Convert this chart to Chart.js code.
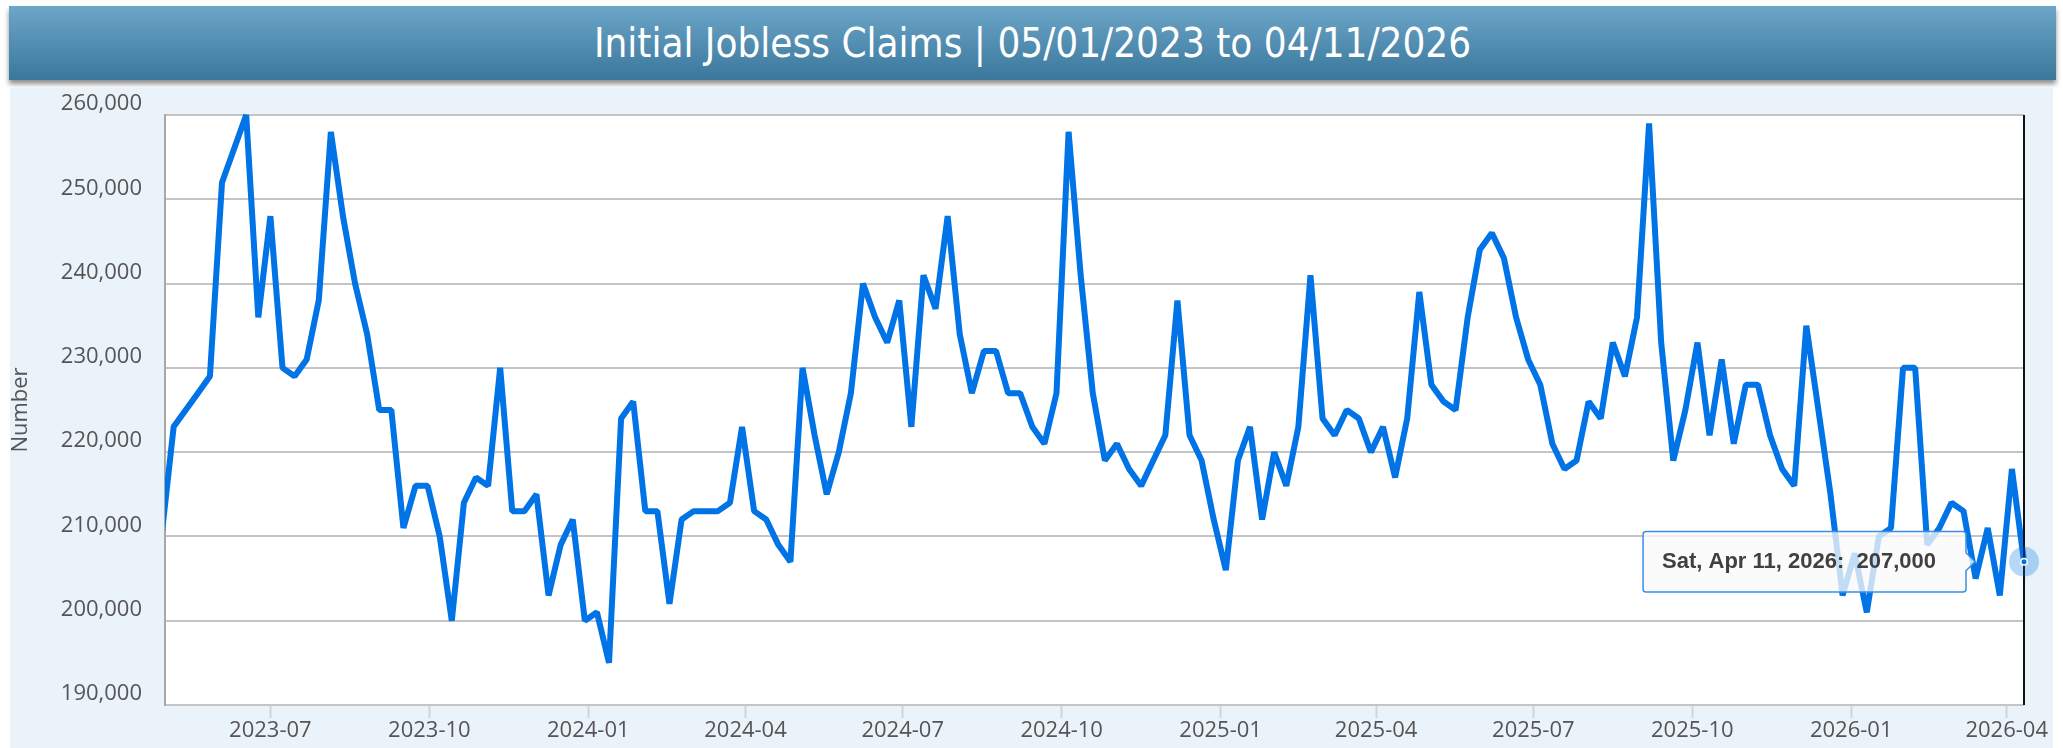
<!DOCTYPE html>
<html>
<head>
<meta charset="utf-8">
<title>Initial Jobless Claims</title>
<script src="https://cdn.jsdelivr.net/npm/chart.js@4.4.1/dist/chart.umd.min.js"></script>
<style>
    html, body { margin: 0; padding: 0; width: 2063px; height: 748px; overflow: hidden; background: #fff; }
    #title {
        position: absolute; left: 9px; top: 6px; width: 2047px; height: 74px;
        background: linear-gradient(#6ca6c9, #3a779b);
        box-shadow: 0 4px 5px rgba(0, 0, 0, 0.45);
        color: #fff; text-align: center; line-height: 74px;
        font-family: 'Liberation Sans Narrow', 'DejaVu Sans Condensed', sans-serif; font-size: 40px;
    }
    #panel { position: absolute; left: 10px; top: 88px; width: 2043px; height: 660px; background: #eaf2fa; }
    #chart { display: block; }
</style>
</head>
<body>
<div id="title">Initial Jobless Claims | 05/01/2023 to 04/11/2026</div>
<div id="panel"><canvas id="chart" width="2043" height="660"></canvas></div>
<script>
// weekly claims, first week ending Sat Apr 29 2023 (just left of the axis start)
const firstWeek = '2023-04-29';
const rangeStart = '2023-05-01';
const rangeEnd = '2026-04-11';

const claims = [
    210000, 223000, 225000, 227000, 229000, 252000, 256000, 260000, 236000, 248000,
    230000, 229000, 231000, 238000, 258000, 248000, 240000, 234000, 225000, 225000,
    211000, 216000, 216000, 210000, 200000, 214000, 217000, 216000, 230000, 213000,
    213000, 215000, 203000, 209000, 212000, 200000, 201000, 195000, 224000, 226000,
    213000, 213000, 202000, 212000, 213000, 213000, 213000, 214000, 223000, 213000,
    212000, 209000, 207000, 230000, 222000, 215000, 220000, 227000, 240000, 236000,
    233000, 238000, 223000, 241000, 237000, 248000, 234000, 227000, 232000, 232000,
    227000, 227000, 223000, 221000, 227000, 258000, 241000, 227000, 219000, 221000,
    218000, 216000, 219000, 222000, 238000, 222000, 219000, 212000, 206000, 219000,
    223000, 212000, 220000, 216000, 223000, 241000, 224000, 222000, 225000, 224000,
    220000, 223000, 217000, 224000, 239000, 228000, 226000, 225000, 236000, 244000,
    246000, 243000, 236000, 231000, 228000, 221000, 218000, 219000, 226000, 224000,
    233000, 229000, 236000, 259000, 233000, 219000, 225000, 233000, 222000, 231000,
    221000, 228000, 228000, 222000, 218000, 216000, 235000, 225000, 215000, 203000,
    208000, 201000, 210000, 211000, 230000, 230000, 209000, 211000, 214000, 213000,
    205000, 211000, 203000, 218000, 207000
];

const tickLabels = ['2023-07', '2023-10', '2024-01', '2024-04', '2024-07', '2024-10',
    '2025-01', '2025-04', '2025-07', '2025-10', '2026-01', '2026-04'];

const yTicks = [190000, 200000, 210000, 220000, 230000, 240000, 250000, 260000];

const DAY = 86400000;
const dayNames = ['Sun', 'Mon', 'Tue', 'Wed', 'Thu', 'Fri', 'Sat'];
const monthNames = ['Jan', 'Feb', 'Mar', 'Apr', 'May', 'Jun', 'Jul', 'Aug', 'Sep', 'Oct', 'Nov', 'Dec'];

function toDay(iso) {
    return (Date.parse(iso + 'T00:00:00Z') - Date.parse(rangeStart + 'T00:00:00Z')) / DAY;
}

function fmtDate(day) {
    const d = new Date(Date.parse(rangeStart + 'T00:00:00Z') + day * DAY);
    return `${dayNames[d.getUTCDay()]}, ${monthNames[d.getUTCMonth()]} ${d.getUTCDate()}, ${d.getUTCFullYear()}`;
}

const firstDay = toDay(firstWeek);
const points = claims.map((v, i) => ({ x: firstDay + 7 * i, y: v }));
const tickDays = tickLabels.map(t => toDay(t + '-01'));

// white plot background
const plotBg = {
    id: 'plotBg',
    beforeDraw(chart) {
        const { ctx, chartArea: a } = chart;
        ctx.save();
        ctx.fillStyle = '#fff';
        ctx.fillRect(a.left, a.top, a.right - a.left, a.bottom - a.top);
        ctx.restore();
    }
};

// crosshair + halo on the hovered point
const hoverMarker = {
    id: 'hoverMarker',
    afterDatasetsDraw(chart) {
        const active = chart.getActiveElements();
        if (!active.length) return;
        const pt = active[0].element;
        const ctx = chart.ctx;
        const area = chart.chartArea;
        ctx.save();
        ctx.strokeStyle = '#111';
        ctx.lineWidth = 2;
        ctx.beginPath();
        ctx.moveTo(pt.x, area.top);
        ctx.lineTo(pt.x, area.bottom);
        ctx.stroke();
        ctx.fillStyle = 'rgba(0, 115, 230, 0.28)';
        ctx.beginPath(); ctx.arc(pt.x, pt.y, 15, 0, Math.PI * 2); ctx.fill();
        ctx.fillStyle = '#fff';
        ctx.beginPath(); ctx.arc(pt.x, pt.y, 4, 0, Math.PI * 2); ctx.fill();
        ctx.fillStyle = '#0a6fd8';
        ctx.beginPath(); ctx.arc(pt.x, pt.y, 2.5, 0, Math.PI * 2); ctx.fill();
        ctx.restore();
    }
};

Chart.defaults.font.family = "'Open Sans', sans-serif";
Chart.defaults.font.size = 22;
Chart.defaults.color = '#555';

const chart = new Chart(document.getElementById('chart').getContext('2d'), {
    type: 'line',
    data: {
        datasets: [{
            label: 'Initial Jobless Claims',
            data: points,
            borderColor: '#0073e6',
            borderWidth: 6,
            borderJoinStyle: 'bevel',
            pointRadius: 0,
            pointHoverRadius: 0,
            tension: 0,
            clip: { left: 0, top: 5, right: 5, bottom: 5 }
        }]
    },
    options: {
        responsive: false,
        animation: false,
        events: [],
        layout: { padding: { left: 0, right: 29, top: 27, bottom: 0 } },
        plugins: {
            legend: { display: false },
            tooltip: {
                animation: false,
                xAlign: 'right',
                yAlign: 'center',
                backgroundColor: 'rgba(250, 250, 250, 0.78)',
                borderColor: '#3b8ee8',
                borderWidth: 1.5,
                cornerRadius: 3,
                caretSize: 9,
                caretPadding: 49,
                displayColors: false,
                padding: { left: 19, right: 30, top: 17, bottom: 17 },
                bodyFont: { family: "'Liberation Sans', Arial, sans-serif", size: 22, weight: 'bold' },
                bodyColor: '#404040',
                callbacks: {
                    title: () => [],
                    label: ctx => `${fmtDate(ctx.raw.x)}:  ${ctx.raw.y.toLocaleString('en-US')}`
                }
            }
        },
        scales: {
            x: {
                type: 'linear',
                min: 0,
                max: toDay(rangeEnd),
                afterBuildTicks: scale => { scale.ticks = tickDays.map(v => ({ value: v })); },
                afterFit: scale => { scale.height = 43; },
                grid: { drawOnChartArea: false, drawTicks: true, tickLength: 13, tickColor: '#c9d6e4', tickWidth: 2 },
                border: { display: false },
                ticks: {
                    padding: 0,
                    maxRotation: 0,
                    autoSkip: false,
                    callback: (v, i) => tickLabels[i]
                }
            },
            y: {
                min: yTicks[0],
                max: yTicks[yTicks.length - 1],
                afterBuildTicks: scale => { scale.ticks = yTicks.map(v => ({ value: v })); },
                afterFit: scale => {
                    scale.width = 155;
                    scale.paddingTop = 0;
                    scale.paddingBottom = 0;
                },
                grid: { color: '#c4c4c4', lineWidth: 2, drawTicks: false },
                border: { color: '#a8a8a8', width: 2 },
                ticks: {
                    padding: 23,
                    labelOffset: -11,
                    callback: v => v.toLocaleString('en-US')
                },
                title: {
                    display: true,
                    text: 'Number',
                    font: { size: 22, lineHeight: 1 },
                    padding: 0
                }
            }
        }
    },
    plugins: [plotBg, hoverMarker]
});

const last = points.length - 1;
const el = chart.getDatasetMeta(0).data[last];
chart.setActiveElements([{ datasetIndex: 0, index: last }]);
chart.tooltip.setActiveElements([{ datasetIndex: 0, index: last }], { x: el.x, y: el.y });
chart.update();
</script>
</body>
</html>
